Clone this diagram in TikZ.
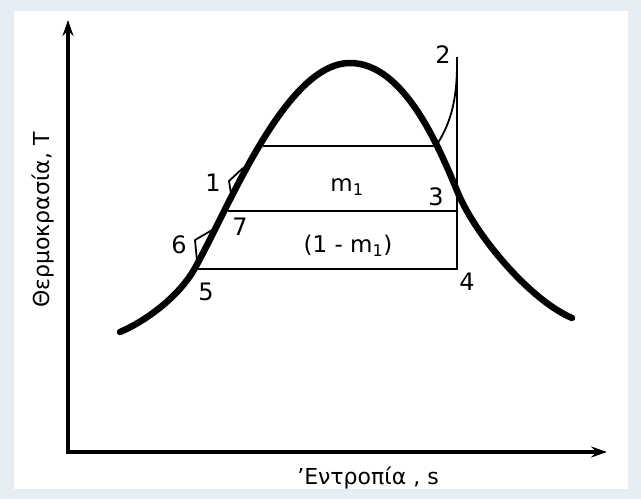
\documentclass[tikz,border=0pt]{standalone}
\usepackage{fontspec}
\setmainfont{DejaVu Sans}
\usepackage{tikz}
\definecolor{frame}{RGB}{231,238,243}
\usetikzlibrary{arrows.meta}

\begin{document}
\begin{tikzpicture}[x=1pt, y=-1pt, >={Stealth[length=16pt, width=11pt]},
    lbl/.style={font=\fontsize{23}{23}\selectfont, inner sep=0pt},
    num/.style={font=\fontsize{24}{24}\selectfont, inner sep=0pt}]
    % Khung nền
    \fill[frame] (0,0) rectangle (641,499);
    \fill[white] (14,11) rectangle (628,489);
    \useasboundingbox (0,0) rectangle (641,499);
    % Trục tọa độ
    \draw[->, line width=3.4pt] (68,454) -- (68,20);
    \draw[->, line width=3.4pt] (66,452) -- (607,452);
    \node[lbl, font=\fontsize{22}{22}\selectfont, rotate=90] (axT) at (43,220) {Θερμοκρασία, T};
    \node[lbl, font=\fontsize{22}{22}\selectfont] (axS) at (368,478) {'Εντροπία , s};
    % Đường cong bão hòa
    \draw[line width=6.5pt, line cap=round, line join=round]
        (120,332) .. controls (148,320) and (180,295) .. (195,268)
        .. controls (230,205) and (286,63) .. (350,63)
        .. controls (405,63) and (440,150) .. (458,193)
        .. controls (476,236) and (530,300) .. (572,318);
    % Chu trình
    \draw[line width=2.8pt] (263,146) -- (435,146);
    \draw[line width=2.8pt] (228,211) -- (457,211);
    \draw[line width=2.8pt, line join=miter] (195,269) -- (457,269) -- (457,57);
    \draw[line width=1.8pt] (436,146) .. controls (449,126) and (457,104) .. (457,64);
    % Bơm
    \draw[line width=1.8pt, line join=round] (232,200) -- (229,181) -- (243,168);
    \draw[line width=1.8pt, line join=round] (197,261) -- (195,240) -- (219,226);
    % Nhãn
    \node[num] (p2) at (443,55) {2};
    \node[num] (p1) at (213,183) {1};
    \node[lbl] (m1) at (347,187) {m\textsubscript{1}};
    \node[num] (p3) at (436,197) {3};
    \node[num] (p7) at (240,227) {7};
    \node[num] (p6) at (179,245) {6};
    \node[lbl] (m2) at (348,246) {(1 - m\textsubscript{1})};
    \node[num] (p5) at (206,292) {5};
    \node[num] (p4) at (467,282) {4};
\end{tikzpicture}
\end{document}
